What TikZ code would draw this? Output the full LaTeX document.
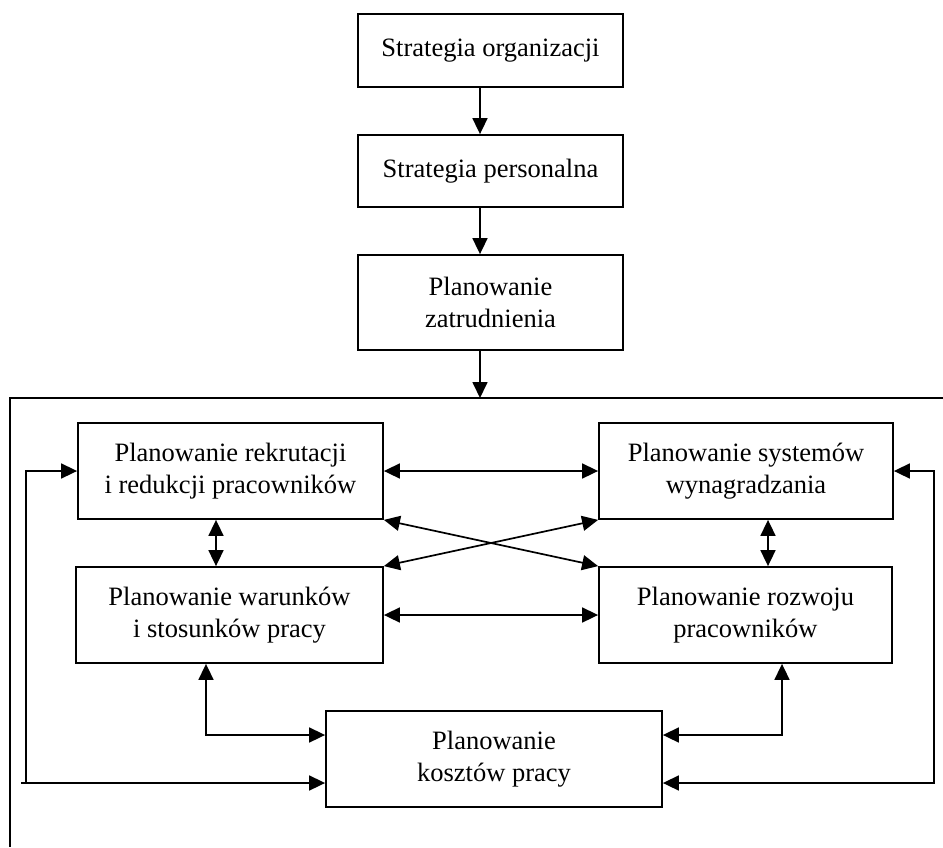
\documentclass[tikz,border=0pt]{standalone}
\usepackage{fontspec}
\setmainfont{Liberation Serif}
\usetikzlibrary{arrows.meta}
\begin{document}
\begin{tikzpicture}[x=1pt,y=-1pt,
  box/.style={draw, line width=1.8pt, inner sep=0pt, align=center, font=\fontsize{26.5}{32.3}\selectfont},
  conn/.style={line width=1.7pt},
  tip/.style={-{Triangle[length=16pt,width=15pt]}},
  both/.style={{Triangle[length=16pt,width=15pt]}-{Triangle[length=16pt,width=15pt]}}]
\useasboundingbox (0,0) rectangle (943,847);
\fill[white] (0,0) rectangle (943,847);
% top chain
\node[box, minimum width=265pt, minimum height=73pt] (so) at (490.5,50.5) {Strategia organizacji};
\node[box, minimum width=265pt, minimum height=72pt] (sp) at (490.5,171) {Strategia personalna};
\node[box, minimum width=265pt, minimum height=95pt] (pz) at (490.5,302.5) {Planowanie\\zatrudnienia};
% frame
\draw[conn] (943,398) -- (10,398) -- (10,847);
\coordinate (ft) at (480,398);
% inner boxes
\node[box, minimum width=305pt, minimum height=96pt] (rek) at (230.5,471) {Planowanie rekrutacji\\i redukcji pracowników};
\node[box, minimum width=294pt, minimum height=96pt] (sys) at (746,471) {Planowanie systemów\\wynagradzania};
\node[box, minimum width=307pt, minimum height=96pt] (war) at (229.5,615) {Planowanie warunków\\i stosunków pracy};
\node[box, minimum width=293pt, minimum height=96pt] (roz) at (745.5,615) {Planowanie rozwoju\\pracowników};
\node[box, minimum width=336pt, minimum height=96pt] (kosz) at (494,759) {Planowanie\\kosztów pracy};
% chain arrows
\draw[conn,tip] ([xshift=-10.5pt]so.south) -- ([xshift=-10.5pt]sp.north);
\draw[conn,tip] ([xshift=-10.5pt]sp.south) -- ([xshift=-10.5pt]pz.north);
\draw[conn,tip] ([xshift=-10.5pt]pz.south) -- (ft);
% inner connections
\draw[conn,both] (rek.east) -- (sys.west);
\draw[conn,both] (war.east) -- (roz.west);
\draw[conn,both] ([xshift=-14.5pt]rek.south) -- ([xshift=-13.5pt]war.north);
\draw[conn,both] ([xshift=22pt]sys.south) -- ([xshift=22.5pt]roz.north);
\draw[conn,both] (rek.south east) -- (roz.north west);
\draw[conn,both] (sys.south west) -- (war.north east);
\draw[conn,both] ([xshift=-23.5pt]war.south) |- ([yshift=24pt]kosz.west);
\draw[conn,both] ([xshift=36.5pt]roz.south) |- ([yshift=24pt]kosz.east);
% feedback loops
\coordinate (fl) at (21,783);
\coordinate (flc) at (26,783);
\coordinate (frc) at (934,783);
\draw[conn,tip] (fl) -- ([yshift=-24pt]kosz.west);
\draw[conn,tip] (flc) |- (rek.west);
\draw[conn,both] (sys.east) -| (frc) -- ([yshift=-24pt]kosz.east);
\end{tikzpicture}
\end{document}
